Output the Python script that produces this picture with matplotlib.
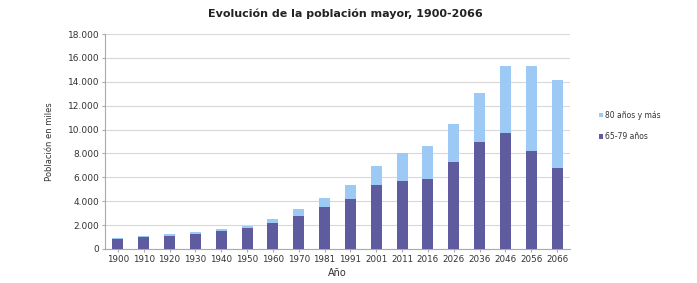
import matplotlib
matplotlib.use("Agg")
import matplotlib.pyplot as plt
import numpy as np

years = ["1900", "1910", "1920", "1930", "1940", "1950", "1960", "1970", "1981",
         "1991", "2001", "2011", "2016", "2026", "2036", "2046", "2056", "2066"]
age_65_79 = [840, 1000, 1110, 1280, 1480, 1730, 2150, 2790, 3490,
             4210, 5380, 5670, 5890, 7260, 8930, 9710, 8200, 6780]
age_80_plus = [110, 50, 120, 140, 170, 220, 330, 530, 750,
               1170, 1570, 2390, 2760, 3200, 4100, 5630, 7090, 7340]
yticks = [0, 2000, 4000, 6000, 8000, 10000, 12000, 14000, 16000, 18000]
ytick_labels = ["0", "2.000", "4.000", "6.000", "8.000", "10.000", "12.000",
                "14.000", "16.000", "18.000"]

dark = "#5e5b9e"
light = "#9ccaf4"

fig = plt.figure(figsize=(6.97, 2.83), dpi=100)
ax = fig.add_axes([105/697, 1-249/283, (570-105)/697, (249-34)/283])

x = np.arange(len(years))
ax.bar(x, age_65_79, width=0.42, color=dark, label="65-79 años", zorder=3)
ax.bar(x, age_80_plus, width=0.42, bottom=age_65_79, color=light,
       label="80 años y más", zorder=3)

ax.set_xlim(-0.5, len(years)-0.5)
ax.set_ylim(0, 18000)
ax.set_yticks(yticks)
ax.set_yticklabels(ytick_labels, fontsize=6.5, color="#333333")
ax.set_xticks(x)
ax.set_xticklabels(years, fontsize=6.3, color="#333333")
ax.yaxis.grid(True, color="#d8d8d8", linewidth=0.8, zorder=0)
for s in ["top", "right"]:
    ax.spines[s].set_visible(False)
ax.spines["left"].set_color("#aaaaaa")
ax.spines["bottom"].set_color("#aaaaaa")
ax.tick_params(axis="both", length=2, color="#aaaaaa", pad=2)

ax.set_xlabel("Año", fontsize=7, color="#333333", labelpad=3)
ax.set_ylabel("Población en miles", fontsize=6, color="#333333", labelpad=10)
fig.text(0.495, 1-14/283, "Evolución de la población mayor, 1900-2066",
         ha="center", va="center", fontsize=8, fontweight="bold", color="#222222")

handles, labels = ax.get_legend_handles_labels()
fig.legend(handles[::-1], labels[::-1], loc="center left",
           bbox_to_anchor=(592/697, 1-126/283), frameon=False, fontsize=5.5,
           handlelength=0.5, handleheight=0.5, handletextpad=0.3,
           labelspacing=1.6, labelcolor="#333333")

fig.savefig("out.png", dpi=100)
